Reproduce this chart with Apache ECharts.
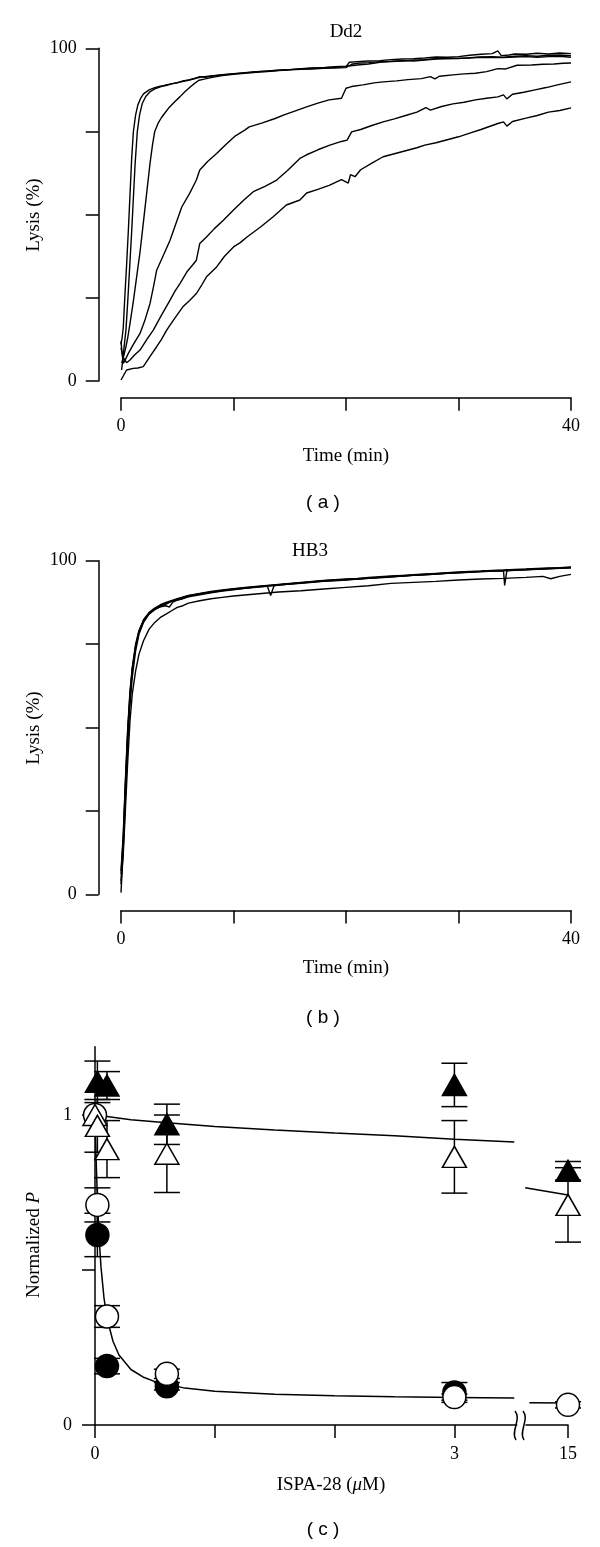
<!DOCTYPE html>
<html><head><meta charset="utf-8">
<script src="https://cdn.jsdelivr.net/npm/echarts@6/dist/echarts.min.js"></script>
<style>html,body{margin:0;padding:0;background:#fff}#c{width:600px;height:1547px}</style>
</head><body><div id="c"></div><script>
// ---------- tick labels ----------
const timeTicks = [0, 10, 20, 30, 40];
const timeLabels = [0, 40];
const lysisTicks = [0, 25, 50, 75, 100];
const lysisLabels = [0, 100];
const concTicks = [0, 1, 2, 3];
const concLabels = [0, 3];
const brokenTicks = [15];
const normTicks = [0, 0.5, 1];
const normLabels = [0, 1];

// ---------- panel (a) Dd2 : [time (min), lysis (%)] ----------
const dd2A = [[0,11],[0.1,13],[0.2,16],[0.35,26],[0.5,35],[0.65,45],[0.8,56],[0.95,67],[1.1,75],[1.3,80],[1.5,83],[1.75,85],[2,86.3],[2.5,87.5],[3,88.2],[3.5,88.6],[4,88.8],[4.5,89.3],[5,89.6],[5.5,90.2],[6,90.5],[6.5,90.9],[7,91.5],[7.5,91.3],[8,91.6],[9,92],[10,92.3],[11,92.6],[12,92.9],[13,93.2],[14,93.4],[15,93.6],[16,93.8],[17,94],[18,94.2],[19,94.3],[20,94.5],[20.3,95.8],[21,96],[22,96.2],[23,96.3],[24,96.6],[25,96.8],[26,96.9],[27,97.1],[28,97.4],[29,97.3],[30,97.5],[31,97.9],[32,98.2],[33,98.4],[33.5,99.2],[33.8,97.8],[34.5,98],[35,98.3],[36,98.2],[37,98.5],[38,98.3],[39,98.6],[40,98.4]];
const dd2B = [[0.05,3.3],[0.15,6],[0.3,11],[0.44,15.3],[0.6,24],[0.75,33],[0.95,45],[1.1,55],[1.25,65],[1.45,75],[1.65,80],[1.9,83.5],[2.2,85.5],[2.6,87],[3,87.8],[3.5,88.4],[4,89],[5,89.7],[6,90.4],[7,91.3],[8,91.7],[9,92.1],[10,92.4],[11,92.7],[12,93],[13,93.1],[14,93.4],[15,93.6],[16,93.9],[17,94.1],[18,94.2],[19,94.5],[20,94.6],[21,95],[22,95.3],[23,95.8],[24,96],[25,96.2],[26,96.5],[27,96.6],[28,96.9],[29,97],[30,96.9],[31,97.2],[32,97.4],[33,97.5],[34,97.3],[35,97.6],[36,97.8],[37,97.6],[38,97.9],[39,98],[40,97.8]];
const dd2C = [[0.06,5.4],[0.2,7],[0.44,10.3],[0.6,13],[0.8,17.3],[1.1,24],[1.39,31.3],[1.7,39],[1.98,47.4],[2.3,57],[2.58,65.4],[2.8,71],[3,75],[3.3,77.5],[3.6,79.2],[3.87,80.4],[4.3,82.3],[4.8,84],[5.23,85.4],[5.7,87],[6.2,88.5],[6.6,89.6],[6.93,90.4],[7.5,90.8],[8,91.2],[9,91.8],[10,92.2],[11,92.5],[12,92.8],[13,93],[14,93.3],[15,93.5],[16,93.7],[17,93.8],[18,94],[19,94.1],[20,94.2],[20.5,95.2],[21,95.5],[22,95.7],[23,96],[24,96.1],[25,96.3],[26,96.2],[27,96.5],[28,96.8],[29,96.9],[30,97],[31,97.1],[32,97.3],[33,97.2],[34,97.2],[35,97.4],[36,97.5],[37,97.3],[38,97.5],[39,97.6],[40,97.3]];
const dd2D = [[0,12],[0.1,8],[0.21,5.3],[0.4,6.5],[0.65,8.3],[1.1,11],[1.69,14.3],[2.1,18],[2.58,23.3],[2.9,28.5],[3.17,33.3],[3.8,38],[4.36,42.3],[4.9,47.5],[5.4,52.3],[6.1,56.4],[6.7,60.4],[7,63.4],[7.7,66],[8.5,68.4],[9.3,71],[10.1,73.5],[11,75.4],[11.4,76.4],[12.5,77.5],[13.7,78.9],[14.5,80],[15.5,81.2],[16.5,82.4],[17.5,83.5],[18.5,84.5],[19.6,85],[20,88],[20.5,88.5],[21.5,89],[22.5,89.6],[23.3,89.9],[24.5,90.2],[25.5,90.6],[26.7,90.9],[27.5,91.5],[27.9,90.8],[28.3,91.6],[29.5,92],[30.5,92.3],[31.5,92.5],[32.5,93],[33.5,93.9],[34.2,93.8],[35.2,94.9],[36.5,95],[37.5,95.2],[38.5,95.3],[39.3,95.5],[40,95.6]];
const dd2E = [[0,10],[0.2,7],[0.5,5.5],[0.8,6.3],[1.2,7.8],[1.69,9.3],[2.3,12.5],[2.87,15.3],[3.6,19.8],[4.36,24.3],[4.8,27],[5.24,29.3],[5.9,33],[6.4,35],[6.7,36.3],[7,41.3],[7.6,43.3],[8.3,45.8],[9.1,48.3],[10,51.4],[10.9,54.3],[11.76,56.9],[12.8,58.5],[13.84,60.4],[14.8,63.3],[15.9,66.9],[16.5,68],[17.5,69.5],[18.5,70.8],[19.6,72],[20.1,72.4],[20.5,74.9],[21.3,75.6],[22.3,76.8],[23.3,77.9],[24.3,78.8],[25.3,79.8],[26.3,80.8],[27.1,82.2],[27.5,81.4],[28.5,82.5],[29.5,83.3],[30.5,83.8],[31.5,84.5],[32.5,85],[33.5,85.4],[34,86],[34.3,84.8],[34.8,86.2],[35.8,86.8],[36.8,87.5],[37.8,88.2],[38.8,89],[40,89.9]];
const dd2F = [[0,0.3],[0.5,3.3],[1.09,3.8],[1.5,3.9],[1.98,4.3],[2.6,7.5],[3.17,10.3],[3.6,12.5],[4.06,15.3],[4.8,19],[5.5,22.3],[6.1,24.2],[6.7,26.3],[7.2,29],[7.6,31.3],[8.5,34.3],[9.2,37.5],[10,40.3],[10.6,41.6],[11.2,43.3],[11.8,44.8],[12.4,46.3],[13.5,49.3],[14.7,52.9],[15.9,54.4],[16.5,56.5],[17.5,57.6],[18.5,58.8],[19.6,60.5],[20.2,59.5],[20.4,62],[20.8,61.4],[21.3,63.5],[22.3,65.5],[23.3,67.4],[24.3,68.3],[25.3,69.2],[26.3,70.1],[27,70.9],[28,71.6],[29,72.5],[30,73.4],[31,74.5],[32,75.6],[33.5,77.4],[34,77.9],[34.3,76.6],[34.8,78],[36,79],[37,79.8],[38,80.8],[39,81.3],[40,82.1]];

// ---------- panel (b) HB3 : [time (min), lysis (%)] ----------
const hb3M1 = [[0,7],[0.2,18],[0.4,35],[0.6,50],[0.8,61],[1,68],[1.3,75],[1.6,79],[2,82],[2.5,84.3],[3,85.6],[3.5,86.5],[4,87],[4.5,87.8],[5,88.5],[6,89.5],[7,90],[8,90.5],[9,91],[10,91.5],[11,91.8],[12,92.2],[13,92.5],[14,92.8],[15,93.1],[16,93.4],[17,93.7],[18,94],[19,94.2],[20,94.4],[21,94.5],[22,94.8],[23,95],[24,95.3],[25,95.4],[26,95.7],[27,95.9],[28,96.1],[29,96.3],[30,96.5],[31,96.7],[32,96.8],[33,97],[34,97.1],[35,97.2],[36,97.4],[37,97.5],[38,97.7],[39,97.8],[40,98]];
const hb3M2 = [[0,0.5],[0.15,10],[0.35,25],[0.55,42],[0.75,55],[1,65],[1.3,73],[1.6,78],[2,81.5],[2.5,84],[3,85.3],[3.5,86.2],[4,87.2],[4.5,87.9],[5,88.2],[5.5,88.6],[6,89.4],[7,90.1],[8,90.6],[9,91.1],[10,91.4],[11,91.7],[12,92.1],[13,92.4],[13.3,89.6],[13.6,92.5],[14,92.7],[15,93],[16,93.3],[17,93.6],[18,93.9],[19,94.1],[20,94.3],[21,94.5],[22,94.7],[23,95],[24,95.2],[25,95.4],[26,95.6],[27,95.8],[28,96],[29,96.2],[30,96.4],[31,96.6],[32,96.8],[33,96.9],[34,97],[35,97.2],[36,97.3],[37,97.5],[38,97.6],[39,97.8],[40,97.9]];
const hb3M3 = [[0,3],[0.2,15],[0.4,32],[0.6,48],[0.8,59],[1,67],[1.3,74],[1.6,78.5],[2,81.8],[2.5,84.2],[3,85.5],[3.5,86.2],[4,86.5],[4.3,86.1],[4.6,87.6],[5,88.2],[6,89.2],[7,89.8],[8,90.4],[9,90.9],[10,91.3],[11,91.7],[12,92],[13,92.3],[14,92.7],[15,93],[16,93.2],[17,93.5],[18,93.8],[19,94],[20,94.2],[21,94.5],[22,94.7],[23,94.9],[24,95.1],[25,95.4],[26,95.6],[27,95.8],[28,96],[29,96.2],[30,96.4],[31,96.5],[32,96.7],[33,96.9],[34,97],[34.1,92.6],[34.3,97],[35,97.1],[36,97.3],[37,97.4],[38,97.6],[39,97.7],[40,97.9]];
const hb3M4 = [[0,6],[0.2,17],[0.4,34],[0.6,49],[0.8,60],[1,67.5],[1.3,74.5],[1.6,79],[2,82.3],[2.5,84.5],[3,85.8],[3.5,86.8],[4,87.5],[5,88.6],[6,89.6],[7,90.2],[8,90.8],[9,91.2],[10,91.6],[11,92],[12,92.3],[13,92.6],[14,92.9],[15,93.2],[16,93.5],[17,93.8],[18,94.1],[19,94.3],[20,94.5],[21,94.7],[22,95],[23,95.2],[24,95.4],[25,95.6],[26,95.8],[27,96],[28,96.2],[29,96.4],[30,96.6],[31,96.8],[32,96.9],[33,97.1],[34,97.2],[35,97.4],[36,97.5],[37,97.7],[38,97.8],[39,97.9],[40,98.1]];
const hb3S = [[0,4],[0.2,12],[0.4,26],[0.6,40],[0.8,52],[1,60],[1.3,67],[1.6,72],[2,76],[2.5,79.5],[3,81.5],[3.5,83],[4,84],[4.5,85],[5,86],[5.5,86.5],[6,87.3],[7,88],[8,88.6],[9,89],[10,89.4],[12,90],[14,90.6],[16,91],[18,91.5],[20,92],[22,92.5],[24,93.2],[26,93.5],[28,93.8],[30,94.2],[32,94.5],[34,94.7],[36,95],[37.5,95.3],[38.2,94.6],[39,95.3],[40,95.9]];

// ---------- panel (c) : ISPA-28 (uM) vs normalized P ----------
const conc = [0, 0.02, 0.1, 0.6, 3, 15];
const openCircle = [1.0, 0.71, 0.35, 0.165, 0.09, 0.065];
const openCircleErr = [0, 0.055, 0.035, 0.015, 0.01, 0.01];
const filledCircle = [null, 0.613, 0.19, 0.125, 0.105, null];
const filledCircleErr = [0, 0.07, 0.025, 0.012, 0.032, 0];
const filledTri = [null, 1.107, 1.095, 0.97, 1.097, 0.82];
const filledTriErr = [0, 0.067, 0.045, 0.065, 0.07, 0.03];
const openTri = [1.0, 0.965, 0.89, 0.875, 0.865, 0.71];
const openTriErr = [0, 0.085, 0.092, 0.125, 0.117, 0.12];
const circleFit = [[0,1.0],[0.005,0.92],[0.01,0.85],[0.02,0.73],[0.03,0.64],[0.04,0.57],[0.05,0.51],[0.075,0.41],[0.1,0.345],[0.15,0.27],[0.2,0.226],[0.3,0.179],[0.4,0.155],[0.5,0.14],[0.75,0.119],[1,0.109],[1.5,0.099],[2,0.094],[2.5,0.091],[3,0.089],[3.5,0.087]];
const circleFitHigh = [[12.7,0.072],[15,0.071]];
const triFit = [[0,1.0],[0.1,0.995],[0.3,0.985],[0.6,0.975],[1,0.963],[1.5,0.952],[2,0.942],[2.5,0.933],[3,0.922],[3.5,0.913]];
const triFitHigh = [[12.45,0.765],[15,0.742]];
const BREAK_AT = 15; // values plotted on the right-hand (broken) axis

// ---------- helpers ----------
const SERIF = 'Liberation Serif';
const SANS = 'Liberation Sans';
const axLine = {show: true, onZero: false, lineStyle: {color: '#000', width: 1.5}};
function tick(vals) { return {show: true, inside: false, length: 13, customValues: vals, lineStyle: {color: '#000', width: 1.5}}; }
function lab(vals, margin) { return {show: true, customValues: vals, margin: margin, color: '#000', fontFamily: SERIF, fontSize: 18}; }
function lineSeries(data, xi, yi, w) {
  return {type: 'line', data: data, xAxisIndex: xi, yAxisIndex: yi, showSymbol: false, symbol: 'none',
    lineStyle: {color: '#000', width: w || 1.4}, silent: true, animation: false, clip: false, z: 3};
}
function pick(vals, errs, high) {
  const m = [], e = [];
  conc.forEach((x, i) => {
    if (vals[i] == null) return;
    if ((x === BREAK_AT) !== high) return;
    m.push([x, vals[i]]);
    if (errs[i] > 0) e.push([x, vals[i] - errs[i], vals[i] + errs[i]]);
  });
  return {m, e};
}
function errSeries(data, xi, yi) {
  return {type: 'custom', xAxisIndex: xi, yAxisIndex: yi, data: data, clip: false, silent: true, animation: false, z: 4,
    renderItem: function (params, api) {
      const x = api.value(0), lo = api.value(1), hi = api.value(2);
      const a = api.coord([x, lo]), b = api.coord([x, hi]);
      const w = 13, st = {stroke: '#000', lineWidth: 1.5, fill: null};
      return {type: 'group', children: [
        {type: 'line', shape: {x1: a[0], y1: a[1], x2: b[0], y2: b[1]}, style: st},
        {type: 'line', shape: {x1: a[0] - w, y1: a[1], x2: a[0] + w, y2: a[1]}, style: st},
        {type: 'line', shape: {x1: b[0] - w, y1: b[1], x2: b[0] + w, y2: b[1]}, style: st}
      ]};
    }};
}
function markSeries(data, xi, yi, symbol, filled) {
  const isTri = symbol === 'triangle';
  return {type: 'scatter', data: data, xAxisIndex: xi, yAxisIndex: yi, symbol: symbol,
    symbolSize: isTri ? [24, 21] : 23, clip: false, silent: true, animation: false, z: 5,
    itemStyle: {color: filled ? '#000' : '#fff', borderColor: '#000', borderWidth: 1.5, opacity: 1}};
}

// ---------- grids ----------
const grids = [
  {left: 121, width: 450, top: 48.3, height: 332.7},          // (a)
  {left: 121, width: 450, top: 560.7, height: 333.6},         // (b)
  {left: 95, width: 421.7, top: 1046.8, height: 378.2},       // (c) main
  {left: 526, width: 42, top: 1046.8, height: 378.2}          // (c) broken part
].map(g => Object.assign({outerBoundsMode: 'none', containLabel: false}, g));

const xAxes = [
  {gridIndex: 0, type: 'value', min: 0, max: 40, interval: 10, offset: 16.7, axisLine: axLine, axisTick: tick(timeTicks), axisLabel: lab(timeLabels, 20), splitLine: {show: false}},
  {gridIndex: 1, type: 'value', min: 0, max: 40, interval: 10, offset: 16.3, axisLine: axLine, axisTick: tick(timeTicks), axisLabel: lab(timeLabels, 20), splitLine: {show: false}},
  {gridIndex: 2, type: 'value', min: 0, max: 3.52, interval: 1, axisLine: axLine, axisTick: tick(concTicks), axisLabel: lab(concLabels, 20), splitLine: {show: false}},
  {gridIndex: 3, type: 'value', min: 12.5, max: 15, interval: 2.5, axisLine: axLine, axisTick: tick(brokenTicks), axisLabel: lab(brokenTicks, 20), splitLine: {show: false}}
];
const yAxes = [
  {gridIndex: 0, type: 'value', min: 0, max: 100, interval: 25, offset: 22.3, axisLine: axLine, axisTick: tick(lysisTicks), axisLabel: lab(lysisLabels, 22), splitLine: {show: false}},
  {gridIndex: 1, type: 'value', min: 0, max: 100, interval: 25, offset: 22.3, axisLine: axLine, axisTick: tick(lysisTicks), axisLabel: lab(lysisLabels, 22), splitLine: {show: false}},
  {gridIndex: 2, type: 'value', min: 0, max: 1.22, interval: 0.5, axisLine: axLine, axisTick: tick(normTicks), axisLabel: lab(normLabels, 23), splitLine: {show: false}},
  {gridIndex: 3, type: 'value', min: 0, max: 1.22, show: false}
];

const series = [];
[dd2A, dd2B, dd2C, dd2D, dd2E, dd2F].forEach(d => series.push(lineSeries(d, 0, 0)));
[hb3S, hb3M1, hb3M2, hb3M3, hb3M4].forEach(d => series.push(lineSeries(d, 1, 1)));
series.push(lineSeries(circleFit, 2, 2, 1.5));
series.push(lineSeries(triFit, 2, 2, 1.5));
series.push(lineSeries(circleFitHigh, 3, 3, 1.5));
series.push(lineSeries(triFitHigh, 3, 3, 1.5));
[[filledCircle, filledCircleErr, 'circle', true],
 [openCircle, openCircleErr, 'circle', false],
 [filledTri, filledTriErr, 'triangle', true],
 [openTri, openTriErr, 'triangle', false]].forEach(([v, e, sym, filled]) => {
  [false, true].forEach(high => {
    const p = pick(v, e, high);
    const xi = high ? 3 : 2;
    if (p.e.length) series.push(errSeries(p.e, xi, xi));
    if (p.m.length) series.push(markSeries(p.m, xi, xi, sym, filled));
  });
});

function txt(text, x, y, font, rot) {
  return {type: 'text', x: x, y: y, rotation: rot || 0, z: 10, silent: true,
    style: {text: text, font: font, fill: '#000', align: 'center', verticalAlign: 'middle'}};
}
function richTxt(text, x, y, rot, rich) {
  return {type: 'text', x: x, y: y, rotation: rot || 0, z: 10, silent: true,
    style: {text: text, font: '19px ' + SERIF, fill: '#000', align: 'center', verticalAlign: 'middle', rich: rich}};
}
const R = Math.PI / 2;
const f19 = '19px ' + SERIF;
const italicRich = {n: {font: '19px ' + SERIF, fill: '#000'}, i: {font: 'italic 19px ' + SERIF, fill: '#000'}};
const graphic = [
  txt('Dd2', 346, 32, f19), txt('Lysis (%)', 34, 215, f19, R), txt('Time (min)', 346, 456, f19), txt('( a )', 323, 503, '19px ' + SANS),
  txt('HB3', 310, 551, f19), txt('Lysis (%)', 34, 728, f19, R), txt('Time (min)', 346, 968, f19), txt('( b )', 323, 1018, '19px ' + SANS),
  richTxt('{n|Normalized }{i|P}', 34, 1245, R, italicRich),
  richTxt('{n|ISPA-28 (}{i|\u03bc}{n|M)}', 331, 1485, 0, italicRich),
  txt('( c )', 323, 1530, '19px ' + SANS),
  {type: 'bezierCurve', silent: true, z: 10, shape: {x1: 515, y1: 1411, cpx1: 522, cpy1: 1419, cpx2: 510, cpy2: 1432, x2: 516, y2: 1440}, style: {stroke: '#000', lineWidth: 1.5, fill: null}},
  {type: 'bezierCurve', silent: true, z: 10, shape: {x1: 523, y1: 1411, cpx1: 530, cpy1: 1419, cpx2: 518, cpy2: 1432, x2: 524, y2: 1440}, style: {stroke: '#000', lineWidth: 1.5, fill: null}}
];

const chart = echarts.init(document.getElementById('c'), null, {renderer: 'canvas'});
chart.setOption({
  backgroundColor: '#fff', animation: false,
  grid: grids, xAxis: xAxes, yAxis: yAxes, series: series, graphic: graphic
});
</script></body></html>
